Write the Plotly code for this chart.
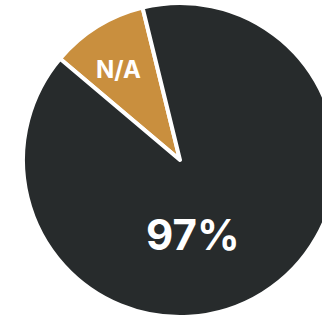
import plotly.graph_objects as go

labels = ["N/A", "Yes"]
values = [10, 90]
texts = ["N/A", "97%"]
colors = ["#c98f3e", "#272b2c"]

W, H = 340, 317
fig = go.Figure(go.Pie(
    labels=labels, values=values, sort=False, direction="clockwise",
    rotation=-49.8, textinfo="none", hoverinfo="label+percent",
    marker=dict(colors=colors, line=dict(color="white", width=4)),
    domain=dict(x=[23 / W, 337 / W], y=[0, (H - 3) / H]),
    showlegend=False,
))

pos = {"N/A": (118, 69, 24), "97%": (192.5, 234, 42)}
for t in texts:
    x, y, s = pos[t]
    fig.add_annotation(x=x / W, y=1 - y / H, xref="paper", yref="paper",
                       text="<b>" + t + "</b>", showarrow=False,
                       font=dict(family="Inter", size=s, color="white"),
                       xanchor="center", yanchor="middle")

fig.update_layout(width=W, height=H, margin=dict(l=0, r=0, t=0, b=0),
                  paper_bgcolor="white", plot_bgcolor="white")
fig.write_html("out.html", config={"displayModeBar": False},
               post_script="document.body.style.margin='0';document.body.style.overflow='hidden';document.documentElement.style.overflow='hidden';")
